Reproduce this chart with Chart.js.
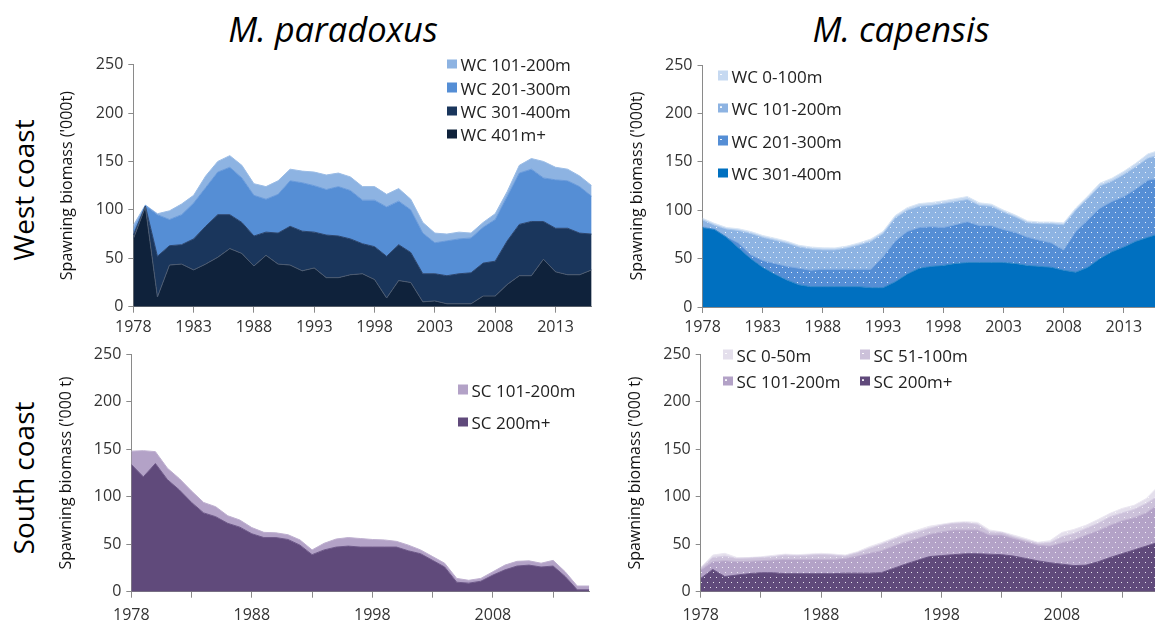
<!DOCTYPE html>
<html>
<head>
<meta charset="utf-8">
<script src="https://cdn.jsdelivr.net/npm/chart.js@4/dist/chart.umd.min.js"></script>
<style>
  html, body { margin: 0; padding: 0; background: #fff; width: 1155px; height: 626px; overflow: hidden; }
  body { position: relative; font-family: 'Open Sans', sans-serif; color: #111; }
  .panel { position: absolute; }
  .title { position: absolute; font-style: italic; font-size: 34.5px; transform: translate(-50%, -50%); white-space: nowrap; color: #000; }
  .row { position: absolute; font-size: 28px; white-space: nowrap; transform: translate(-50%, -50%) rotate(-90deg); color: #000; }
  .lg { position: absolute; font-size: 17px; color: #222; white-space: nowrap; transform: translateY(-50%); display: flex; align-items: center; }
  .sw { width: 9.5px; height: 9.5px; margin-right: 4px; display: inline-block; }
</style>
</head>
<body>

<div class="title" style="left:333px; top:28px;">M. paradoxus</div>
<div class="title" style="left:901px; top:28px;">M. capensis</div>
<div class="row" style="left:23px; top:190px;">West coast</div>
<div class="row" style="left:23px; top:478px;">South coast</div>

<div class="panel" style="left:40px; top:50px;"><canvas id="wcPar" width="580" height="290"></canvas></div>
<div class="panel" style="left:610px; top:50px;"><canvas id="wcCap" width="560" height="290"></canvas></div>
<div class="panel" style="left:40px; top:330px;"><canvas id="scPar" width="580" height="296"></canvas></div>
<div class="panel" style="left:610px; top:330px;"><canvas id="scCap" width="560" height="296"></canvas></div>

<div id="legends"></div>

<script>
// Spawning biomass ('000 t) by depth band, 1978-2016
const years = [1978,1979,1980,1981,1982,1983,1984,1985,1986,1987,1988,1989,1990,
  1991,1992,1993,1994,1995,1996,1997,1998,1999,2000,2001,2002,2003,2004,2005,
  2006,2007,2008,2009,2010,2011,2012,2013,2014,2015,2016];

// M. paradoxus, west coast
const wcPar401 = [70,103,10,43,44,38,44,51,60,55,42,53,44,43,37,40,30,30,33,34,28,9,27,25,5,6,3,3,3,11,11,23,32,32,49,36,33,33,38];
const wcPar301 = [4,1,42,20,20,32,39,44,35,32,31,24,32,40,41,37,44,43,37,31,34,43,37,31,29,28,29,31,32,34,36,45,53,56,39,45,48,43,37];
const wcPar201 = [5,0.5,43,27,31,37,40,44,49,46,42,34,40,47,50,48,47,51,50,45,48,51,45,44,42,32,36,36,36,37,43,46,53,54,45,50,49,48,39];
const wcPar101 = [5,0.5,1,9,11,8,12,11,12,13,12,13,14,12,12,14,15,14,14,14,14,13,13,11,11,10,7,7,5,5,6,5,8,11,17,13,12,11,11];

// M. capensis, west coast
const wcCap301 = [82,80,72,61,50,41,34,28,23,21,21,21,21,21,20,20,26,34,40,42,43,45,46,46,46,46,45,43,42,41,38,36,41,50,57,62,68,72,76];
const wcCap201 = [1,0.5,0.5,5,4,7,11,14,17,17,18,18,18,18,19,32,42,44,42,41,39,40,42,38,38,34,32,29,27,25,21,42,49,52,52,52,54,59,57];
const wcCap101 = [7,4,8,13,22,24,24,24,22,22,20,20,22,25,29,24,24,22,22,22,25,24,23,21,20,18,16,15,17,20,26,22,22,23,21,23,23,23,24];
const wcCap0 = [1.7,1.9,1.6,1.8,2,1.9,2.1,2,1.8,2,2.1,2,1.9,2.2,2.3,2.1,2.4,2.6,2.8,2.9,2.7,2.9,3.1,2.6,2.2,2.1,2,1.9,1.8,1.8,1.9,2.3,2.6,2.9,3,3.2,3.6,4.2,5];

// M. paradoxus, south coast
const scPar200 = [134,121,135,118,107,94,83,79,72,68,61,57,57,55,49,39,44,47,48,47,47,47,47,43,40,33,26,10,9,11,17.5,23,27,28,26,27,16,2,2];
const scPar101 = [14,27.5,12.5,12,12,12,11,10.5,8,7.5,6.5,5.5,5,5,5.5,5,7,8.5,9,9,8,7.5,6,6,4,4,4,4,3,3,3.5,5,5,4.5,4,6,5,4,4];

// M. capensis, south coast
const scCap200 = [14,23.5,16,17.5,19,20,20,19,19,19,19,19,19.5,19.5,19.5,20,24.5,29,33,37,38,39,40,40,39.5,39,37.5,35,32.5,30.5,29,27.5,28,31.5,36,40,44,48,52];
const scCap101 = [8.8,8.1,16.6,14.1,13,12.6,13.3,15,15,15,15,15,15.5,18,20.9,23.2,23.5,23.6,23,23.4,25,26,25,25,20.1,20.6,18.5,17.6,16.5,17.5,22.6,26.9,31.6,32.7,34,34.7,34,35,40];
const scCap51 = [1.8,4.4,4.9,3.4,3.4,3.4,3.5,4.6,3.9,4.6,5.3,4.6,2.5,3.5,5.2,6.8,7,7,7,6.3,7,7,7.6,6,3.4,2.8,1.9,1.8,1.9,3.6,6.3,7,7.1,7.8,9,8.3,8.7,10,9];
const scCap0 = [1,2.6,2.9,1,0.6,0.8,1.4,1,1.1,1,1.1,1,1.1,1,1.8,1.6,1.5,1.8,2,2.3,1,1,1.1,2,2,0.6,1.7,1.6,1.1,2.1,4.5,4.2,3.3,4,3.5,4.7,4.3,5,10];

const tickYears = [1978,1983,1988,1993,1998,2003,2008,2013];
const labelsEvery5 = [1978,1983,1988,1993,1998,2003,2008,2013];
const labelsEvery10 = [1978,1988,1998,2008];
const yTicks = [0,50,100,150,200,250];

const FONT = "'Open Sans', sans-serif";
const AXIS = '#8a8a8a';
const TXT = '#333';

// white dotted fill used for the M. capensis series
function dotted(color) {
  const c = document.createElement('canvas');
  c.width = 6; c.height = 10;
  const g = c.getContext('2d');
  g.fillStyle = color; g.fillRect(0, 0, 6, 10);
  g.fillStyle = 'rgba(255,255,255,0.85)';
  g.fillRect(1, 2, 1, 1);
  g.fillRect(4, 7, 1, 1);
  return g.createPattern(c, 'repeat');
}

function series(label, values, fill, border, first) {
  return {
    label: label,
    data: years.map((y, i) => ({ x: y, y: values[i] })),
    backgroundColor: fill,
    borderColor: border,
    borderWidth: 1,
    pointRadius: 0,
    tension: 0,
    fill: first ? 'origin' : '-1'
  };
}

function makeChart(id, datasets, g) {
  return new Chart(document.getElementById(id), {
    type: 'line',
    data: { datasets: datasets },
    options: {
      responsive: false,
      animation: false,
      events: [],
      layout: { padding: { top: g.padTop, right: g.padRight, left: 0, bottom: 0 } },
      plugins: { legend: { display: false }, tooltip: { enabled: false } },
      scales: {
        x: {
          type: 'linear', min: 1978, max: 2016,
          afterBuildTicks: s => { s.ticks = tickYears.map(v => ({ value: v })); },
          afterFit: s => { s.height = g.xH; },
          ticks: {
            autoSkip: false, maxRotation: 0, padding: g.xPad, color: TXT,
            font: { family: FONT, size: 16 },
            callback: v => (g.xLabels.includes(v) ? String(v) : '')
          },
          grid: { drawOnChartArea: false, drawTicks: true, tickLength: 6, color: AXIS },
          border: { display: true, color: AXIS, width: 1 }
        },
        y: {
          stacked: true, min: 0, max: 250,
          afterBuildTicks: s => { s.ticks = yTicks.map(v => ({ value: v })); },
          afterFit: s => { s.width = g.yW; },
          ticks: { padding: 5, color: TXT, font: { family: FONT, size: 16 } },
          grid: { drawOnChartArea: false, drawTicks: true, tickLength: 5, color: AXIS },
          border: { display: true, color: AXIS, width: 1 },
          title: {
            display: true, text: g.yTitle, color: '#111',
            font: { family: FONT, size: 16 },
            padding: { top: g.titlePad, bottom: 0 }
          }
        }
      }
    }
  });
}

// colours
const navy4 = '#0f223b', navy3 = '#1a365c', blue2 = '#558ed5', blue1 = '#8db3e2';
const capBlue = '#0070c0', capPale = '#c6d9f1';
const plum = '#604a7b', lilac = '#b3a2c7', lilac2 = '#ccc1da', lilac3 = '#e4dfec';

makeChart('wcPar', [
  series('WC 401m+', wcPar401, navy4, '#4b5a70', true),
  series('WC 301-400m', wcPar301, navy3, '#2b4670'),
  series('WC 201-300m', wcPar201, blue2, '#6a9bdb'),
  series('WC 101-200m', wcPar101, blue1, '#9cbde6')
], { padTop: 14.3, padRight: 28.3, xH: 33.3, yW: 93.3, xPad: 5, xLabels: labelsEvery5,
     yTitle: "Spawning biomass ('000t)", titlePad: 18 });

makeChart('wcCap', [
  series('WC 301-400m', wcCap301, capBlue, '#2f86c8', true),
  series('WC 201-300m', wcCap201, dotted(blue2), '#79a6df'),
  series('WC 101-200m', wcCap101, dotted(blue1), '#a9c7ec'),
  series('WC 0-100m', wcCap0, dotted(capPale), '#dce8f6')
], { padTop: 15, padRight: 10, xH: 33, yW: 92.5, xPad: 5, xLabels: labelsEvery5,
     yTitle: "Spawning biomass ('000t)", titlePad: 18 });

makeChart('scPar', [
  series('SC 200m+', scPar200, plum, '#6e5989', true),
  series('SC 101-200m', scPar101, lilac, '#bfb0d0')
], { padTop: 24.3, padRight: 30.7, xH: 34.3, yW: 91.3, xPad: 8, xLabels: labelsEvery10,
     yTitle: "Spawning biomass ('000 t)", titlePad: 17 });

makeChart('scCap', [
  series('SC 200m+', scCap200, dotted(plum), '#6e5989', true),
  series('SC 101-200m', scCap101, dotted(lilac), '#bfb0d0'),
  series('SC 51-100m', scCap51, dotted(lilac2), '#d6cde3'),
  series('SC 0-50m', scCap0, dotted(lilac3), '#ece8f2')
], { padTop: 24.3, padRight: 11.8, xH: 34.3, yW: 90.7, xPad: 8, xLabels: labelsEvery10,
     yTitle: "Spawning biomass ('000 t)", titlePad: 16 });

// legends
const legendItems = [
  { text: 'WC 101-200m', color: blue1, x: 447, y: 64 },
  { text: 'WC 201-300m', color: blue2, x: 447, y: 87.5 },
  { text: 'WC 301-400m', color: navy3, x: 447, y: 111 },
  { text: 'WC 401m+', color: navy4, x: 447, y: 134 },
  { text: 'WC 0-100m', color: capPale, x: 718, y: 75.5, dots: true },
  { text: 'WC 101-200m', color: blue1, x: 718, y: 108, dots: true },
  { text: 'WC 201-300m', color: blue2, x: 718, y: 140.5, dots: true },
  { text: 'WC 301-400m', color: capBlue, x: 718, y: 173 },
  { text: 'SC 101-200m', color: lilac, x: 458, y: 389.5 },
  { text: 'SC 200m+', color: plum, x: 458, y: 422 },
  { text: 'SC 0-50m', color: lilac3, x: 723, y: 354.5, dots: true },
  { text: 'SC 51-100m', color: lilac2, x: 860, y: 354.5, dots: true },
  { text: 'SC 101-200m', color: lilac, x: 723, y: 381, dots: true },
  { text: 'SC 200m+', color: plum, x: 860, y: 381, dots: true }
];
const host = document.getElementById('legends');
legendItems.forEach(it => {
  const d = document.createElement('div');
  d.className = 'lg';
  d.style.left = it.x + 'px';
  d.style.top = it.y + 'px';
  const sw = document.createElement('span');
  sw.className = 'sw';
  sw.style.backgroundColor = it.color;
  if (it.dots) sw.style.backgroundImage = 'radial-gradient(circle at 30% 40%, rgba(255,255,255,0.9) 0.7px, transparent 1.1px)';
  d.appendChild(sw);
  d.appendChild(document.createTextNode(it.text));
  host.appendChild(d);
});
</script>
</body>
</html>
